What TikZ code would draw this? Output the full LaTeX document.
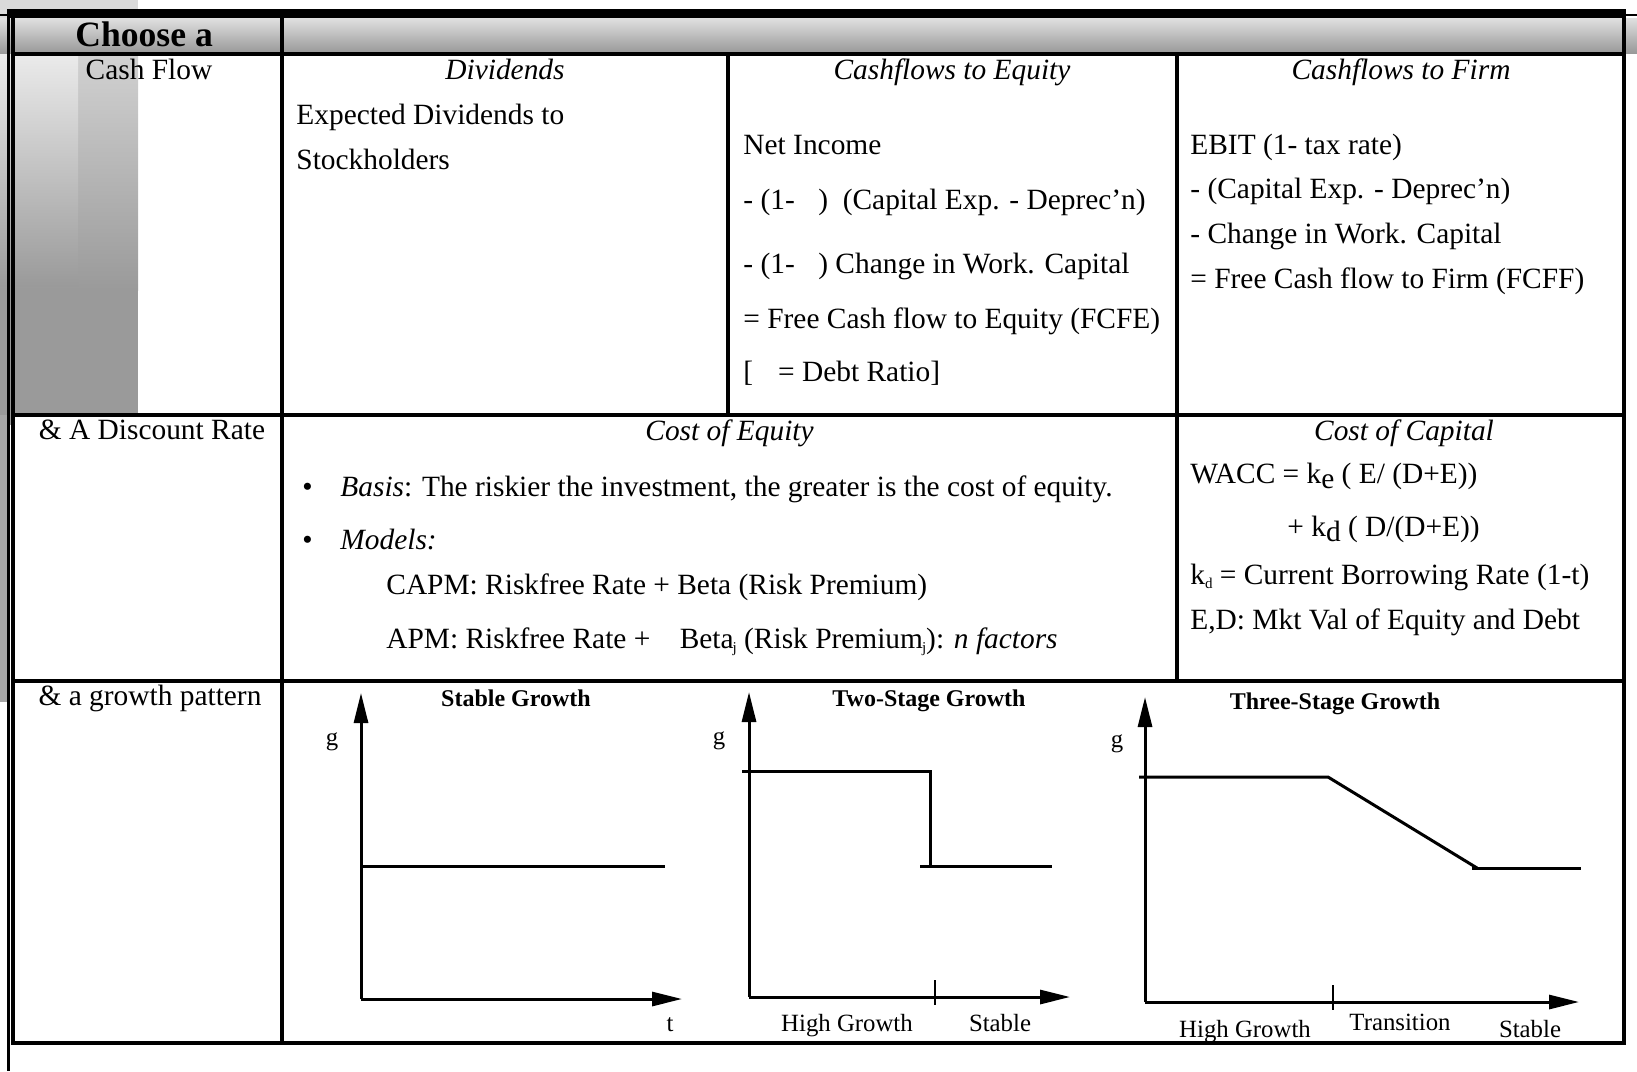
\documentclass[tikz,border=0pt]{standalone}
\usepackage{fontspec}
\setmainfont{Liberation Serif}
\usetikzlibrary{arrows.meta}
\definecolor{bandtop}{HTML}{E0E0E0}
\definecolor{bandbot}{HTML}{999999}
\definecolor{paneltop}{HTML}{DADADA}
\definecolor{panellight}{HTML}{EBEBEB}
\definecolor{panelgray}{HTML}{9A9A9A}
\definecolor{stripgray}{HTML}{A6A6A6}
\newcommand{\tinysub}[1]{\raisebox{-2pt}{\fontsize{7.5pt}{8pt}\selectfont #1}}
\begin{document}
\begin{tikzpicture}[x=0.5pt,y=-0.5pt,
  rule/.style={line width=1.6pt},
  heavy/.style={line width=4.5pt},
  body/.style={inner sep=0pt, font=\fontsize{14.7pt}{17pt}\selectfont},
  txt/.style={body, anchor=base west},
  ctxt/.style={body, anchor=base},
  ital/.style={ctxt, font=\fontsize{14.7pt}{17pt}\selectfont\itshape},
  small/.style={inner sep=0pt, anchor=base, font=\fontsize{12.4pt}{14pt}\selectfont},
  gtitle/.style={inner sep=0pt, anchor=base, font=\fontsize{12pt}{14pt}\selectfont\bfseries},
  curve/.style={line width=1.5pt},
  axis/.style={line width=1.5pt, -{Triangle[length=15pt,width=7pt]}},
  tick/.style={line width=0.6pt},
]
\useasboundingbox (0,0) rectangle (1637,1071);

% shaded side panel behind the first column
\fill[paneltop] (0,0) rectangle (138,18);
\shade[top color=paneltop, bottom color=panelgray] (0,18) rectangle (138,290);
\fill[panelgray] (0,289) rectangle (138,415);
\shade[top color=panellight, bottom color=panelgray] (0,53) rectangle (78,286);
\fill[panelgray] (0,415) rectangle (15,425);
\fill[stripgray] (0,415) rectangle (8,702);

% header band
\shade[top color=bandtop, bottom color=bandbot] (0,18) rectangle (1637,53);

% frame and grid
\draw[heavy] (7,13.5) -- (1626,13.5);
\draw[line width=0.8pt] (0,15) -- (8,15);
\draw[line width=0.8pt] (1624,15) -- (1637,15);
\draw[line width=1.3pt] (8.3,9) -- (8.3,1071);
\draw[line width=2pt] (13,18) -- (13,1043);
\draw[line width=2pt] (1624,9) -- (1624,1045);
\draw[rule] (13,54) -- (1624,54);
\draw[rule] (13,415) -- (1624,415);
\draw[rule] (13,681) -- (1624,681);
\draw[line width=2pt] (11,1043) -- (1626,1043);
\draw[rule] (282,18) -- (282,1043);
\draw[rule] (728,54) -- (728,415);
\draw[rule] (1177,54) -- (1177,681);

% first column
\node[txt, font=\fontsize{17.8pt}{20pt}\selectfont\bfseries] (choose) at (75,46) {Choose a};
\node[ctxt] (cashflow) at (149,79) {Cash Flow};
\node[ctxt] (discount) at (152,439) {\& A Discount Rate};
\node[ctxt] (growth) at (150,705) {\& a growth pattern};

% cash flow row
\node[ital] (divhead) at (505,79) {Dividends};
\node[txt] (div1) at (296,124) {Expected Dividends to};
\node[txt] (div2) at (296,169) {Stockholders};

\node[ital] (cfehead) at (952,79) {Cashflows to Equity};
\node[txt] (cfe1) at (743,154) {Net Income};
\node[txt] (cfe2) at (743,209) {- (1-\hspace{0.8em}) \hspace{0.25em}(Capital Exp. - Deprec’n)};
\node[txt] (cfe3) at (743,273) {- (1-\hspace{0.8em}) Change in Work. Capital};
\node[txt] (cfe4) at (743,328) {= Free Cash flow to Equity (FCFE)};
\node[txt] (cfe5) at (743,381) {[\hspace{0.6em} = Debt Ratio]};

\node[ital] (cffhead) at (1401,79) {Cashflows to Firm};
\node[txt] (cff1) at (1190,154) {EBIT (1- tax rate)};
\node[txt] (cff2) at (1190,198) {- (Capital Exp. - Deprec’n)};
\node[txt] (cff3) at (1190,243) {- Change in Work. Capital};
\node[txt] (cff4) at (1190,288) {= Free Cash flow to Firm (FCFF)};

% discount rate row
\node[ital] (coehead) at (729.5,440) {Cost of Equity};
\node[txt] (bul1) at (302,496) {•};
\node[txt] (basis) at (340,496) {\textit{Basis}: The riskier the investment, the greater is the cost of equity.};
\node[txt] (bul2) at (302,549) {•};
\node[txt] (models) at (340,549) {\textit{Models:}};
\node[txt] (capm) at (386,594) {CAPM: Riskfree Rate + Beta (Risk Premium)};
\node[txt] (apm) at (386,648) {APM: Riskfree Rate +\hspace{0.75em} Beta\kern-0.5pt\tinysub{j} (Risk Premium\kern-0.5pt\tinysub{j}): \textit{n factors}};

\node[ital] (cochead) at (1404,440) {Cost of Capital};
\node[txt] (wacc1) at (1190,483) {WACC = k\raisebox{-2.5pt}{e} ( E/ (D+E))};
\node[txt] (wacc2) at (1287,536) {+ k\raisebox{-2.5pt}{d} ( D/(D+E))};
\node[txt] (kd) at (1190,584) {k\tinysub{d} = Current Borrowing Rate (1-t)};
\node[txt] (ed) at (1190,629) {E,D: Mkt Val of Equity and Debt};

% growth pattern row: stable growth
\node[gtitle] (t1) at (516,706) {Stable Growth};
\coordinate (o1) at (361,999);
\coordinate (y1) at (361,693);
\coordinate (x1) at (682,999);
\draw[axis] (o1) -- (y1);
\draw[axis] (o1) -- (x1);
\coordinate (s1a) at (361,866);
\coordinate (s1b) at (665,866);
\draw[curve] (s1a) -- (s1b);
\node[small] (g1) at (332,745) {g};
\node[small] (tlab) at (670,1031) {t};

% two-stage growth
\node[gtitle] (t2) at (929,706) {Two-Stage Growth};
\coordinate (o2) at (749,997);
\coordinate (y2) at (749,692);
\coordinate (x2) at (1070,997);
\draw[axis] (o2) -- (y2);
\draw[axis] (o2) -- (x2);
\coordinate (k2a) at (935,980);
\coordinate (k2b) at (935,1005);
\draw[tick] (k2a) -- (k2b);
\coordinate (h2a) at (742,771);
\coordinate (h2b) at (930,771);
\coordinate (h2c) at (930,866);
\coordinate (l2a) at (920,866);
\coordinate (l2b) at (1052,866);
\draw[curve] (h2a) -- (h2b) -- (h2c);
\draw[curve] (l2a) -- (l2b);
\node[small] (g2) at (719,744) {g};
\node[small] (hg2) at (847,1031) {High Growth};
\node[small] (st2) at (1000,1031) {Stable};

% three-stage growth
\node[gtitle] (t3) at (1335,709) {Three-Stage Growth};
\coordinate (o3) at (1145,1002);
\coordinate (y3) at (1145,697);
\coordinate (x3) at (1579,1002);
\draw[axis] (o3) -- (y3);
\draw[axis] (o3) -- (x3);
\coordinate (k3a) at (1333,985);
\coordinate (k3b) at (1333,1010);
\draw[tick] (k3a) -- (k3b);
\coordinate (h3a) at (1139,777);
\coordinate (h3b) at (1328,777);
\coordinate (h3c) at (1477,868);
\coordinate (l3a) at (1472,868);
\coordinate (l3b) at (1581,868);
\draw[curve] (h3a) -- (h3b) -- (h3c);
\draw[curve] (l3a) -- (l3b);
\node[small] (g3) at (1117,747) {g};
\node[small] (hg3) at (1245,1037) {High Growth};
\node[small] (tr3) at (1400,1030) {Transition};
\node[small] (st3) at (1530,1037) {Stable};
\end{tikzpicture}
\end{document}
